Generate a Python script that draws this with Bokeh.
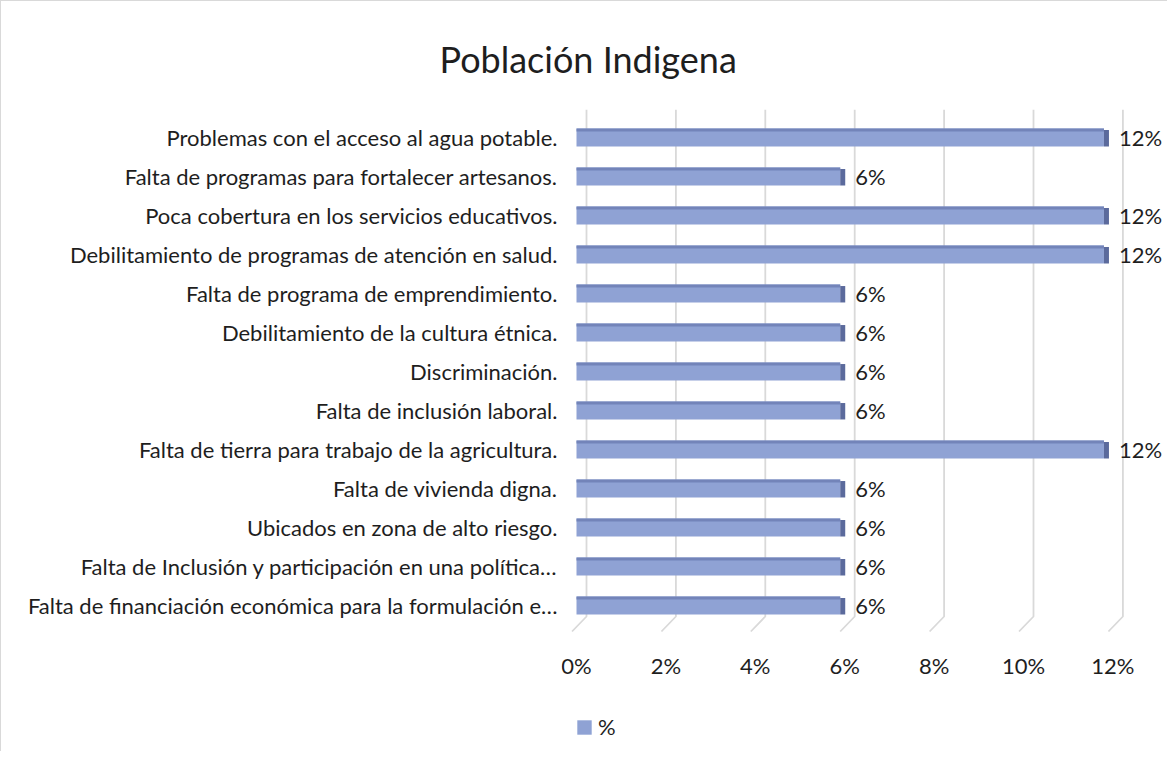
from bokeh.plotting import figure
from bokeh.models import Range1d, FixedTicker, ColumnDataSource, Legend, LegendItem, Title
from bokeh.core.properties import value
from bokeh.embed import file_html
from bokeh.resources import INLINE

title_text = "Población Indigena"
categories = [
    "Problemas con el acceso al agua potable.",
    "Falta de programas para fortalecer artesanos.",
    "Poca cobertura en los servicios educativos.",
    "Debilitamiento de programas de atención en salud.",
    "Falta de programa de emprendimiento.",
    "Debilitamiento de la cultura étnica.",
    "Discriminación.",
    "Falta de inclusión laboral.",
    "Falta de tierra para trabajo de la agricultura.",
    "Falta de vivienda digna.",
    "Ubicados en zona de alto riesgo.",
    "Falta de Inclusión y participación en una política…",
    "Falta de financiación económica para la formulación e…",
]
values = [11.8, 5.9, 11.8, 11.8, 5.9, 5.9, 5.9, 5.9, 11.8, 5.9, 5.9, 5.9, 5.9]
value_labels = ["12%", "6%", "12%", "12%", "6%", "6%", "6%", "6%", "12%", "6%", "6%", "6%", "6%"]
x_ticks = [0, 2, 4, 6, 8, 10, 12]
x_tick_labels = ["0%", "2%", "4%", "6%", "8%", "10%", "12%"]
series_name = "%"

FONT = "Lato"
TXT = "#1e1e1e"
n = len(categories)
ypos = [n - 1 - i for i in range(n)]

W, H = 1167, 751
# frame geometry (canvas px)
fl, fr, ft, fb = 560, 1162, 108, 745
pxx = 44.7
x0 = (575 - fl) / pxx
xr = Range1d(-x0, -x0 + (fr - fl) / pxx)
rowh = 39.0
row_top_px, row_bot_px = 136, 604
y_top = (n - 1) + (row_top_px - ft) / rowh
y_bot = -(fb - row_bot_px) / rowh
yr = Range1d(y_bot, y_top)

p = figure(width=W, height=H, x_range=xr, y_range=yr,
           output_backend="svg", toolbar_location=None,
           min_border_left=fl, min_border_right=W - fr,
           min_border_top=ft, min_border_bottom=H - fb)
p.title = Title(text=title_text, align="left", text_font=FONT,
                text_font_size="36px", text_font_style="normal",
                text_color=TXT, offset=-122, standoff=58)
p.outline_line_color = None
p.background_fill_color = "white"
p.border_fill_color = "white"
p.xgrid.visible = False
p.ygrid.visible = False

# 3D-style gridlines: back wall + floor
back_dx = 10 / pxx
wall_bottom = -(615 - row_bot_px) / rowh
floor_front = -(630 - row_bot_px) / rowh
gx = []
gy = []
for t in x_ticks:
    gx.append([t + back_dx, t + back_dx, t - 0.1])
    gy.append([y_top, wall_bottom, floor_front])
p.multi_line(gx, gy, line_color="#d9d9d9", line_width=1.8)

bar_h = 0.46
src = ColumnDataSource(dict(y=ypos, v=values, lab=value_labels))
bars = p.hbar(y="y", left=0, right="v", height=bar_h, source=src,
              fill_color="#8fa2d4", line_color=None)
# top face (darker strip)
top_h = 3 / rowh
p.hbar(y=[y + bar_h / 2 - top_h / 2 for y in ypos], left=0, right=values,
       height=top_h, fill_color="#7384b9", line_color=None)
# side face
side_w = 5 / pxx
p.quad(left=values, right=[v + side_w for v in values],
       top=[y + bar_h / 2 - top_h / 2 for y in ypos],
       bottom=[y - bar_h / 2 for y in ypos],
       fill_color="#5b6a9c", line_color=None)

p.text(x="v", y="y", text="lab", source=src, x_offset=15,
       text_align="left", text_baseline="middle",
       text_font=value(FONT), text_font_size="22px", text_color=TXT)

p.xaxis.fixed_location = floor_front
p.xaxis.ticker = FixedTicker(ticks=x_ticks)
p.xaxis.major_label_overrides = {t: l for t, l in zip(x_ticks, x_tick_labels)}
p.xaxis.axis_line_color = None
p.xaxis.major_tick_line_color = None
p.xaxis.minor_tick_line_color = None
p.xaxis.major_tick_out = 0
p.xaxis.major_tick_in = 0
p.xaxis.major_label_standoff = 20
p.xaxis.major_label_text_font = FONT
p.xaxis.major_label_text_font_size = "22px"
p.xaxis.major_label_text_color = TXT

p.yaxis.ticker = FixedTicker(ticks=ypos)
p.yaxis.major_label_overrides = {y: c for y, c in zip(ypos, categories)}
p.yaxis.axis_line_color = None
p.yaxis.major_tick_line_color = None
p.yaxis.minor_tick_line_color = None
p.yaxis.major_tick_out = 0
p.yaxis.major_tick_in = 0
p.yaxis.major_label_standoff = 4
p.yaxis.major_label_text_font = FONT
p.yaxis.major_label_text_font_size = "22px"
p.yaxis.major_label_text_color = TXT

legend = Legend(items=[LegendItem(label=series_name, renderers=[bars])],
                location=(14, 6), orientation="horizontal",
                label_text_font=FONT, label_text_font_size="22px",
                label_text_color=TXT, glyph_width=18, glyph_height=18,
                border_line_color=None, background_fill_alpha=0,
                padding=0, margin=0, label_standoff=5, label_height=22)
p.add_layout(legend, "center")

p.styles = {"border-top": "1px solid #d9d9d9", "border-left": "1px solid #d9d9d9"}

open("out.html", "w").write(file_html(p, INLINE))
